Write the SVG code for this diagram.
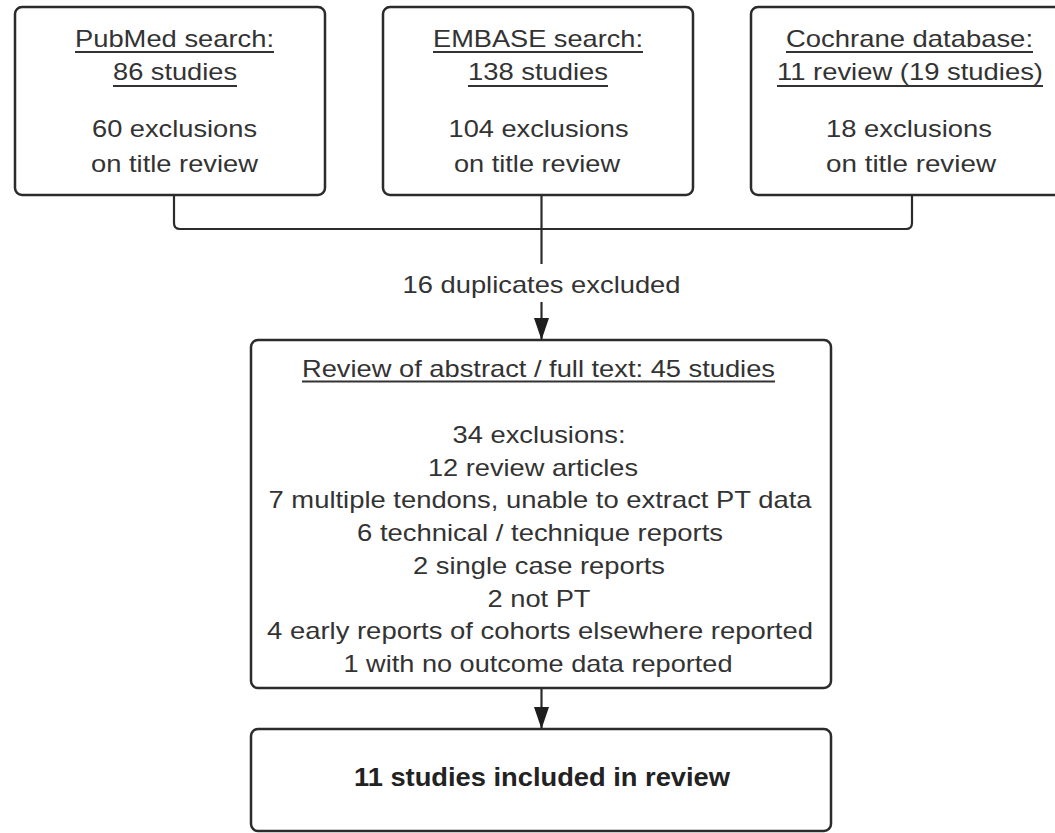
<svg xmlns="http://www.w3.org/2000/svg" width="1055" height="833" viewBox="0 0 1055 833">
  <style>
    .box { fill: #ffffff; stroke: #2b2b2b; stroke-width: 2.5; }
    .t { font-family: "Liberation Sans", Arial, sans-serif; font-size: 24px; fill: #333333; text-anchor: middle; }
    .tb { font-family: "Liberation Sans", Arial, sans-serif; font-size: 25px; font-weight: bold; fill: #222222; text-anchor: middle; }
    .ul { stroke: #333333; stroke-width: 1.8; }
    .conn { fill: none; stroke: #2b2b2b; stroke-width: 2.2; }
  </style>
  <defs>
    <marker id="arrow" viewBox="0 0 22 15" refX="22" refY="7.5" markerWidth="22" markerHeight="15" markerUnits="userSpaceOnUse" orient="auto">
      <path d="M0,0 L22,7.5 L0,15 z" fill="#1e1e1e"/>
    </marker>
  </defs>
  <rect x="0" y="0" width="1055" height="833" fill="#ffffff"/>

  <g id="connectors">
    <path class="conn" d="M174,195 V223 Q174,229 180,229 H906 Q912,229 912,223 V195"/>
    <path class="conn" d="M541.5,195 V264"/>
    <path class="conn" d="M541.5,302 V340" marker-end="url(#arrow)"/>
    <path class="conn" d="M541.5,689 V729" marker-end="url(#arrow)"/>
    <text id="dup-label" class="t" x="541.5" y="293" textLength="278" lengthAdjust="spacingAndGlyphs">16 duplicates excluded</text>
  </g>

  <g id="pubmed">
    <rect class="box" x="15" y="7" width="310" height="188" rx="7"/>
    <text class="t" x="174.5" y="47" textLength="199" lengthAdjust="spacingAndGlyphs">PubMed search:</text>
    <line class="ul" x1="75" y1="52" x2="274" y2="52"/>
    <text class="t" x="175" y="80" textLength="124" lengthAdjust="spacingAndGlyphs">86 studies</text>
    <line class="ul" x1="113" y1="86" x2="237" y2="86"/>
    <text class="t" x="174.5" y="137" textLength="165" lengthAdjust="spacingAndGlyphs">60 exclusions</text>
    <text class="t" x="174.5" y="172" textLength="167" lengthAdjust="spacingAndGlyphs">on title review</text>
  </g>

  <g id="embase">
    <rect class="box" x="383" y="7" width="310" height="188" rx="7"/>
    <text class="t" x="538" y="47" textLength="210" lengthAdjust="spacingAndGlyphs">EMBASE search:</text>
    <line class="ul" x1="433" y1="52" x2="643" y2="52"/>
    <text class="t" x="538" y="80" textLength="140" lengthAdjust="spacingAndGlyphs">138 studies</text>
    <line class="ul" x1="468" y1="86" x2="608" y2="86"/>
    <text class="t" x="538.5" y="137" textLength="180" lengthAdjust="spacingAndGlyphs">104 exclusions</text>
    <text class="t" x="537" y="172" textLength="166" lengthAdjust="spacingAndGlyphs">on title review</text>
  </g>

  <g id="cochrane">
    <rect class="box" x="751" y="7" width="312" height="188" rx="7"/>
    <text class="t" x="909.5" y="47" textLength="247" lengthAdjust="spacingAndGlyphs">Cochrane database:</text>
    <line class="ul" x1="786" y1="52" x2="1033" y2="52"/>
    <text class="t" x="910" y="80" textLength="266" lengthAdjust="spacingAndGlyphs">11 review (19 studies)</text>
    <line class="ul" x1="777" y1="86" x2="1043" y2="86"/>
    <text class="t" x="909" y="137" textLength="166" lengthAdjust="spacingAndGlyphs">18 exclusions</text>
    <text class="t" x="911" y="172" textLength="170" lengthAdjust="spacingAndGlyphs">on title review</text>
  </g>

  <g id="fulltext-review">
    <rect class="box" x="251" y="340" width="580" height="348" rx="7"/>
    <text class="t" x="538.5" y="377" textLength="473" lengthAdjust="spacingAndGlyphs">Review of abstract / full text: 45 studies</text>
    <line class="ul" x1="302" y1="381.5" x2="775" y2="381.5"/>
    <text class="t" x="539" y="443" textLength="173" lengthAdjust="spacingAndGlyphs">34 exclusions:</text>
    <text class="t" x="533" y="475.7" textLength="210" lengthAdjust="spacingAndGlyphs">12 review articles</text>
    <text class="t" x="540" y="508.4" textLength="543" lengthAdjust="spacingAndGlyphs">7 multiple tendons, unable to extract PT data</text>
    <text class="t" x="540" y="541.1" textLength="366" lengthAdjust="spacingAndGlyphs">6 technical / technique reports</text>
    <text class="t" x="539" y="573.8" textLength="252" lengthAdjust="spacingAndGlyphs">2 single case reports</text>
    <text class="t" x="539" y="606.5" textLength="103" lengthAdjust="spacingAndGlyphs">2 not PT</text>
    <text class="t" x="540" y="639.2" textLength="546" lengthAdjust="spacingAndGlyphs">4 early reports of cohorts elsewhere reported</text>
    <text class="t" x="538" y="671.9" textLength="389" lengthAdjust="spacingAndGlyphs">1 with no outcome data reported</text>
  </g>

  <g id="included">
    <rect class="box" x="251" y="729" width="580" height="102" rx="7"/>
    <text class="tb" x="542" y="786" textLength="376" lengthAdjust="spacingAndGlyphs">11 studies included in review</text>
  </g>
</svg>
